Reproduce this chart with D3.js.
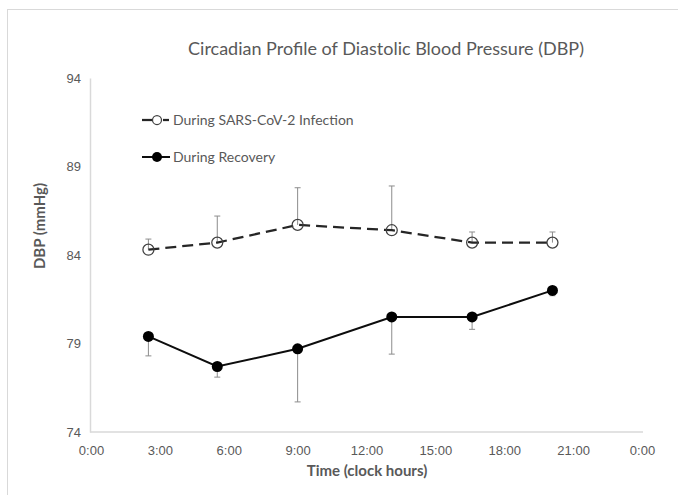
<!DOCTYPE html>
<html>
<head>
<meta charset="utf-8">
<script src="https://cdn.jsdelivr.net/npm/d3@7"></script>
<style>
  body { margin: 0; background: #fff; }
  svg { font-family: "Lato", "Open Sans", sans-serif; }
</style>
</head>
<body>
<svg id="chart" width="678" height="495"></svg>
<script>
// clock hours of each measurement
const hours = [2.5, 5.5, 9, 13.1, 16.6, 20.1];
// During SARS-CoV-2 infection: mean DBP and upper error
const infection = [84.3, 84.7, 85.7, 85.4, 84.7, 84.7];
const infectionErr = [0.6, 1.5, 2.1, 2.5, 0.6, 0.6];
// During recovery: mean DBP and lower error
const recovery = [79.4, 77.7, 78.7, 80.5, 80.5, 82.0];
const recoveryErr = [1.1, 0.6, 3.0, 2.1, 0.7, 0.3];
const xTicks = [0, 3, 6, 9, 12, 15, 18, 21, 24];
const yTicks = [74, 79, 84, 89, 94];

const MARGIN = { top: 78, right: 36, bottom: 63, left: 91 };
const WIDTH = 678, HEIGHT = 495;
const TEXT = "#595959";

const svg = d3.select("#chart");

// outer frame like the exported chart area
svg.append("rect")
  .attr("x", 7.5).attr("y", 9.5)
  .attr("width", 700).attr("height", 500)
  .attr("fill", "none")
  .attr("stroke", "#d9d9d9");

const x = d3.scaleLinear().domain([0, 24]).range([MARGIN.left, WIDTH - MARGIN.right]);
const y = d3.scaleLinear().domain([74, 94]).range([HEIGHT - MARGIN.bottom, MARGIN.top]);

// title
svg.append("text")
  .attr("x", 386).attr("y", 55)
  .attr("text-anchor", "middle")
  .style("font-size", "18px")
  .style("fill", TEXT)
  .text("Circadian Profile of Diastolic Blood Pressure (DBP)");

// axes
const xAxis = svg.append("g")
  .attr("transform", "translate(0," + y(74) + ")")
  .call(d3.axisBottom(x).tickValues(xTicks).tickSize(0).tickPadding(14)
    .tickFormat(d => (d % 24) + ":00"));
xAxis.select(".domain").attr("stroke", "#d9d9d9").attr("stroke-width", 1.5)
  .attr("d", "M" + (x(0) - 1) + ",0H" + (x(24) + 1));
xAxis.selectAll("text").style("font-size", "13px").style("fill", TEXT);

const yAxis = svg.append("g")
  .attr("transform", "translate(" + (x(0) - 1) + ",0)")
  .call(d3.axisLeft(y).tickValues(yTicks).tickSize(0).tickPadding(9));
yAxis.select(".domain").attr("stroke", "#d9d9d9").attr("stroke-width", 1.5);
yAxis.selectAll("text").style("font-size", "13px").style("fill", TEXT);

// axis titles
svg.append("text")
  .attr("x", 367).attr("y", 476)
  .attr("text-anchor", "middle")
  .style("font-size", "15px").style("font-weight", "bold")
  .style("fill", TEXT)
  .text("Time (clock hours)");

svg.append("text")
  .attr("transform", "translate(45,226) rotate(-90)")
  .attr("text-anchor", "middle")
  .style("font-size", "15px").style("font-weight", "bold")
  .style("fill", TEXT)
  .text("DBP (mmHg)");

const infData = hours.map((h, i) => ({ h: h, v: infection[i], e: infectionErr[i] }));
const recData = hours.map((h, i) => ({ h: h, v: recovery[i], e: recoveryErr[i] }));

const line = d3.line().x(d => x(d.h)).y(d => y(d.v));

// error bars (one-sided)
function errorBars(data, dir) {
  const g = svg.append("g").attr("stroke", "#8c8c8c").attr("stroke-width", 1);
  g.selectAll("line.bar").data(data).enter().append("line")
    .attr("x1", d => x(d.h)).attr("x2", d => x(d.h))
    .attr("y1", d => y(d.v)).attr("y2", d => y(d.v + dir * d.e));
  g.selectAll("line.cap").data(data).enter().append("line")
    .attr("x1", d => x(d.h) - 3).attr("x2", d => x(d.h) + 3)
    .attr("y1", d => y(d.v + dir * d.e)).attr("y2", d => y(d.v + dir * d.e));
}
errorBars(infData, 1);
errorBars(recData, -1);

// infection series: dashed with open circles
svg.append("path").datum(infData)
  .attr("d", line)
  .attr("fill", "none")
  .attr("stroke", "#262626")
  .attr("stroke-width", 2.25)
  .attr("stroke-dasharray", "11,6");
svg.selectAll("circle.inf").data(infData).enter().append("circle")
  .attr("cx", d => x(d.h)).attr("cy", d => y(d.v))
  .attr("r", 5.5)
  .attr("fill", "none")
  .attr("stroke", "#404040")
  .attr("stroke-width", 1.25);

// recovery series: solid with filled circles
svg.append("path").datum(recData)
  .attr("d", line)
  .attr("fill", "none")
  .attr("stroke", "#0d0d0d")
  .attr("stroke-width", 2);
svg.selectAll("circle.rec").data(recData).enter().append("circle")
  .attr("cx", d => x(d.h)).attr("cy", d => y(d.v))
  .attr("r", 5.5)
  .attr("fill", "#000");

// legend
const legend = svg.append("g");
legend.append("line")
  .attr("x1", 142).attr("x2", 152).attr("y1", 120).attr("y2", 120)
  .attr("stroke", "#262626").attr("stroke-width", 2.25);
legend.append("line")
  .attr("x1", 163).attr("x2", 169).attr("y1", 120).attr("y2", 120)
  .attr("stroke", "#262626").attr("stroke-width", 2.25);
legend.append("circle")
  .attr("cx", 157).attr("cy", 120).attr("r", 4.5)
  .attr("fill", "none").attr("stroke", "#404040").attr("stroke-width", 1.25);
legend.append("text")
  .attr("x", 173).attr("y", 120).attr("dy", "0.35em")
  .style("font-size", "14px").style("fill", TEXT)
  .text("During SARS-CoV-2 Infection");

legend.append("line")
  .attr("x1", 142).attr("x2", 170).attr("y1", 157).attr("y2", 157)
  .attr("stroke", "#0d0d0d").attr("stroke-width", 2);
legend.append("circle")
  .attr("cx", 157).attr("cy", 157).attr("r", 5)
  .attr("fill", "#000");
legend.append("text")
  .attr("x", 173).attr("y", 157).attr("dy", "0.35em")
  .style("font-size", "14px").style("fill", TEXT)
  .text("During Recovery");
</script>
</body>
</html>
